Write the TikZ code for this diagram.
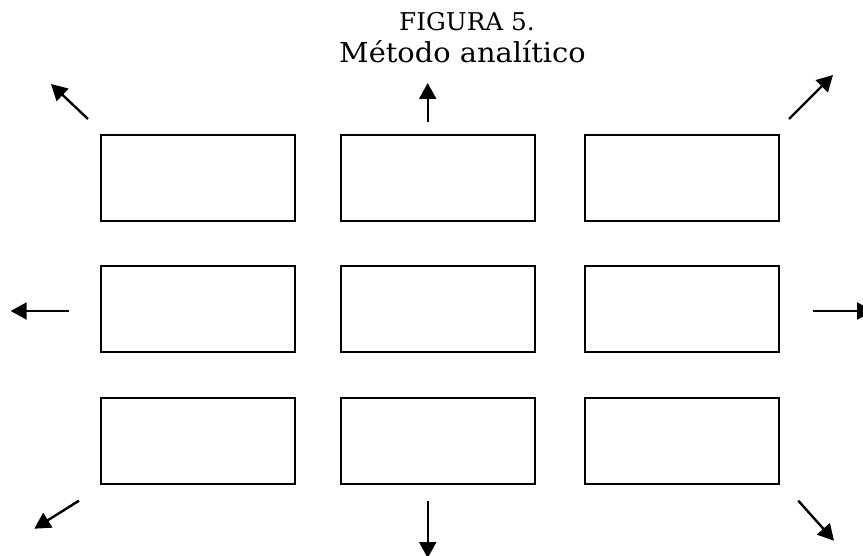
\documentclass[tikz,border=0pt]{standalone}
\usepackage{fontspec}
\setmainfont{DejaVu Serif}
\usetikzlibrary{arrows.meta}
\begin{document}
\begin{tikzpicture}[x=1pt,y=-1pt,
  cell/.style={draw,line width=2pt,minimum width=194pt,minimum height=86pt,inner sep=0pt,anchor=north west},
  outarrow/.style={line width=2.4pt,-{Triangle[length=16pt,width=17pt]}},
  title/.style={inner sep=0pt,anchor=base}]
\useasboundingbox (0,0) rectangle (863,556);
\clip (0,0) rectangle (863,556);
% boxes
\node[cell] (b11) at (100,134) {};
\node[cell] (b12) at (340,134) {};
\node[cell] (b13) at (584,134) {};
\node[cell] (b21) at (100,265) {};
\node[cell] (b22) at (340,265) {};
\node[cell] (b23) at (584,265) {};
\node[cell] (b31) at (100,397) {};
\node[cell] (b32) at (340,397) {};
\node[cell] (b33) at (584,397) {};
% title
\node[title,font=\fontsize{24.5}{28}\selectfont] (t1) at (467,31) {\scalebox{1.01}[1]{FIGURA 5.}};
\node[title,font=\fontsize{27.5}{32}\selectfont] (t2) at (462.5,63) {\scalebox{1.05}[1]{Método analítico}};
% arrow ends
\coordinate (nwA) at (88,119);   \coordinate (nwB) at (51,84);
\coordinate (nA) at (427.7,121.7); \coordinate (nB) at (427.7,83);
\coordinate (neA) at (789,119);  \coordinate (neB) at (833,75);
\coordinate (wA) at (69,311);    \coordinate (wB) at (10.7,311);
\coordinate (eA) at (812.7,311); \coordinate (eB) at (873,311);
\coordinate (swA) at (79,500.7); \coordinate (swB) at (34.3,528.7);
\coordinate (sA) at (427.7,500.7); \coordinate (sB) at (427.7,558);
\coordinate (seA) at (798.3,500.7); \coordinate (seB) at (834,540.7);
\draw[outarrow] (nwA) -- (nwB);
\draw[outarrow] (nA) -- (nB);
\draw[outarrow] (neA) -- (neB);
\draw[outarrow] (wA) -- (wB);
\draw[outarrow] (eA) -- (eB);
\draw[outarrow] (swA) -- (swB);
\draw[outarrow] (sA) -- (sB);
\draw[outarrow] (seA) -- (seB);
\end{tikzpicture}
\end{document}
